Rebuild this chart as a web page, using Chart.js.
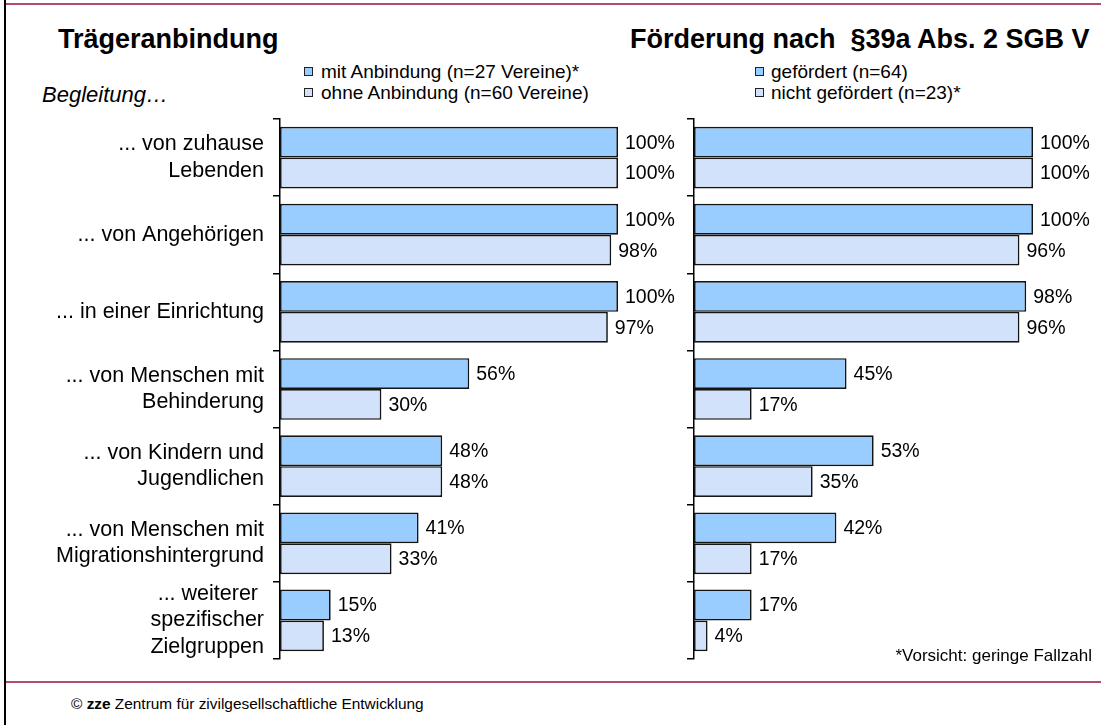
<!DOCTYPE html>
<html>
<head>
<meta charset="utf-8">
<script src="https://cdn.jsdelivr.net/npm/chart.js@4/dist/chart.umd.min.js"></script>
<style>
  body { margin:0; background:#fff; width:1101px; height:725px; overflow:hidden; position:relative;
         font-family:"Liberation Sans", Arial, sans-serif; color:#000; }
  .t { position:absolute; white-space:nowrap; line-height:1; }
  .box { position:absolute; width:7px; height:7px; border:1px solid #222; }
  canvas { position:absolute; }
</style>
</head>
<body>
<!-- frame -->
<div style="position:absolute;left:4px;top:0;width:2px;height:725px;background:#000"></div>
<div style="position:absolute;left:6px;top:3px;width:1095px;height:2px;background:#b24c6c"></div>
<div style="position:absolute;left:6px;top:681px;width:1095px;height:2px;background:#b24c6c"></div>

<div class="t" style="left:58px;top:26px;font-size:27px;font-weight:bold">Trägeranbindung</div>
<div class="t" style="left:630px;top:26px;font-size:27px;font-weight:bold">Förderung nach&nbsp; §39a Abs. 2 SGB V</div>
<div class="t" style="left:42px;top:84px;font-size:22px;font-style:italic">Begleitung…</div>

<div class="box" style="left:304px;top:67px;background:#99ccff"></div>
<div class="t" style="left:321px;top:62px;font-size:19px" id="lg1"></div>
<div class="box" style="left:304px;top:88px;background:#d3e2fb"></div>
<div class="t" style="left:321px;top:83px;font-size:19px" id="lg2"></div>

<div class="box" style="left:755px;top:67px;background:#99ccff"></div>
<div class="t" style="left:771px;top:62px;font-size:19px" id="lg3"></div>
<div class="box" style="left:755px;top:88px;background:#d3e2fb"></div>
<div class="t" style="left:771px;top:83px;font-size:19px" id="lg4"></div>

<canvas id="chartLeft" width="700" height="580" style="left:0;top:100px"></canvas>
<canvas id="chartRight" width="421" height="580" style="left:680px;top:100px"></canvas>

<div class="t" style="right:9px;top:647px;font-size:17px">*Vorsicht: geringe Fallzahl</div>
<div class="t" style="left:71px;top:696px;font-size:15.4px">© <b>zze</b> Zentrum für zivilgesellschaftliche Entwicklung</div>

<script>
// categories (multi-line labels)
const categories = [
  ['... von zuhause', 'Lebenden'],
  '... von Angehörigen',
  '... in einer Einrichtung',
  ['... von Menschen mit', 'Behinderung'],
  ['... von Kindern und', 'Jugendlichen'],
  ['... von Menschen mit', 'Migrationshintergrund'],
  ['... weiterer ', 'spezifischer', 'Zielgruppen']
];

// Trägeranbindung
const seriesLeft = ['mit Anbindung (n=27 Vereine)*', 'ohne Anbindung (n=60 Vereine)'];
const mitAnbindung  = [100, 100, 100, 56, 48, 41, 15];
const ohneAnbindung = [100,  98,  97, 30, 48, 33, 13];

// Förderung nach §39a
const seriesRight = ['gefördert (n=64)', 'nicht gefördert (n=23)*'];
const gefoerdert      = [100, 100, 98, 45, 53, 42, 17];
const nichtGefoerdert = [100,  96, 96, 17, 35, 17,  4];

const colors = ['#99ccff', '#d3e2fb'];
const fontFam = '"Liberation Sans", Arial, sans-serif';

document.getElementById('lg1').textContent = seriesLeft[0];
document.getElementById('lg2').textContent = seriesLeft[1];
document.getElementById('lg3').textContent = seriesRight[0];
document.getElementById('lg4').textContent = seriesRight[1];

// value labels right of each bar
const valueLabels = {
  id: 'valueLabels',
  afterDatasetsDraw(chart) {
    const ctx = chart.ctx;
    ctx.save();
    ctx.font = '19.5px ' + fontFam;
    ctx.fillStyle = '#000';
    ctx.textBaseline = 'middle';
    ctx.textAlign = 'left';
    chart.data.datasets.forEach((ds, i) => {
      chart.getDatasetMeta(i).data.forEach((bar, j) => {
        ctx.fillText(ds.data[j] + '%', bar.x + 7, bar.y + 1);
      });
    });
    ctx.restore();
  }
};

function makeChart(id, names, a, b, showLabels, axisWidth, padRight) {
  return new Chart(document.getElementById(id), {
    type: 'bar',
    data: {
      labels: categories,
      datasets: [
        { label: names[0], data: a, backgroundColor: colors[0] },
        { label: names[1], data: b, backgroundColor: colors[1] }
      ]
    },
    options: {
      indexAxis: 'y',
      responsive: false,
      animation: false,
      devicePixelRatio: 1,
      categoryPercentage: 0.8,
      barPercentage: 1.0,
      borderColor: '#141414',
      borderWidth: 1.7,
      borderSkipped: false,
      layout: { padding: { top: 19, bottom: 21, left: 0, right: padRight } },
      plugins: { legend: { display: false }, tooltip: { enabled: false } },
      scales: {
        x: { display: false, min: 0, max: 100 },
        y: {
          afterFit: s => { s.width = axisWidth; s.paddingTop = 0; s.paddingBottom = 0; },
          grid: { drawOnChartArea: false, drawTicks: true, tickLength: 7, color: '#000', lineWidth: 1.5, offset: true },
          border: { display: true, color: '#000', width: 1.5 },
          ticks: {
            display: showLabels, autoSkip: false, color: '#000', padding: 9,
            font: { size: 21.5, family: fontFam, lineHeight: 1.22 }
          }
        }
      }
    },
    plugins: [valueLabels]
  });
}

makeChart('chartLeft', seriesLeft, mitAnbindung, ohneAnbindung, true, 280, 82);
makeChart('chartRight', seriesRight, gefoerdert, nichtGefoerdert, false, 14, 68);
</script>
</body>
</html>
